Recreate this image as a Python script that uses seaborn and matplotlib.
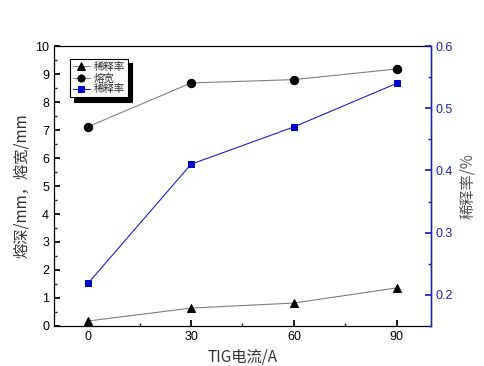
import numpy as np
import pandas as pd
import matplotlib
matplotlib.use('Agg')
import matplotlib.pyplot as plt
import seaborn as sns
from matplotlib.ticker import MultipleLocator

# データ
current = [0, 30, 60, 90]
depth = [0.18, 0.64, 0.82, 1.36]      # 熔深 (凡例は「稀释率」のまま)
width = [7.12, 8.68, 8.80, 9.18]      # 熔宽
dilution = [0.219, 0.410, 0.470, 0.540]  # 稀释率

sns.set_theme(style='ticks')
plt.rcParams['font.family'] = ['Liberation Sans', 'Noto Sans CJK SC', 'DejaVu Sans']

df = pd.DataFrame({'current': current, 'depth': depth, 'width': width, 'dilution': dilution})

fig = plt.figure(figsize=(4.85, 3.66), dpi=100)
ax = fig.add_axes([0.1113, 0.1093, 0.7774, 0.765])
ax2 = ax.twinx()

sns.lineplot(data=df, x='current', y='depth', ax=ax, color='#808080', lw=0.8,
             marker='^', markersize=6, markerfacecolor='black', markeredgecolor='black',
             label='稀释率', legend=False)
sns.lineplot(data=df, x='current', y='width', ax=ax, color='#808080', lw=0.8,
             marker='o', markersize=6, markerfacecolor='black', markeredgecolor='black',
             label='熔宽', legend=False)
sns.lineplot(data=df, x='current', y='dilution', ax=ax2, color='#2020c0', lw=0.8,
             marker='s', markersize=5, markerfacecolor='#0000cc', markeredgecolor='#0000cc',
             label='稀释率', legend=False)

ax.set_xlim(-10, 100)
ax.set_ylim(0, 10)
ax2.set_ylim(0.15, 0.6)
ax.set_xticks(current)
ax.xaxis.set_minor_locator(MultipleLocator(15))
ax.yaxis.set_major_locator(MultipleLocator(1))
ax.yaxis.set_minor_locator(MultipleLocator(0.5))
ax2.yaxis.set_major_locator(MultipleLocator(0.1))
ax2.yaxis.set_minor_locator(MultipleLocator(0.05))

ax.tick_params(axis='both', which='major', direction='in', length=4, labelsize=9, colors='black')
ax.tick_params(axis='both', which='minor', direction='in', length=2.5)
ax.tick_params(axis='x', which='both', top=False)
ax2.tick_params(axis='y', which='major', direction='in', length=4, labelsize=9,
                colors='#2020b0', labelcolor='#2020b0')
ax2.tick_params(axis='y', which='minor', direction='in', length=2.5, colors='#2020b0')

for sp in ax.spines.values():
    sp.set_color('black')
    sp.set_linewidth(0.9)
ax2.spines['right'].set_color('#2020b0')
ax2.spines['right'].set_linewidth(1.0)
for s in ['left', 'top', 'bottom']:
    ax2.spines[s].set_visible(False)

ax.set_xlabel('TIG电流/A', fontsize=11, color='#333333',
              family=['Noto Sans CJK SC', 'DejaVu Sans'])
ax.set_ylabel('熔深/mm，熔宽/mm', fontsize=11, color='#333333',
              family=['Noto Sans CJK SC', 'DejaVu Sans'])
ax2.set_ylabel('稀释率/%', fontsize=11, color='#555555',
               family=['Noto Sans CJK SC', 'DejaVu Sans'])

h1, l1 = ax.get_legend_handles_labels()
h2, l2 = ax2.get_legend_handles_labels()
leg = ax2.legend(h1 + h2, l1 + l2, loc='upper left', bbox_to_anchor=(0.042, 0.955),
                 borderaxespad=0, frameon=True, fancybox=False, markerscale=0.85,
                 handlelength=1.6, borderpad=0.3, labelspacing=0.1, handletextpad=0.4,
                 shadow={'color': 'black', 'alpha': 1, 'ox': 3, 'oy': -3},
                 prop={'family': ['Noto Sans CJK SC', 'DejaVu Sans'], 'size': 7.5})
leg.get_frame().set_edgecolor('black')
leg.get_frame().set_linewidth(0.8)

fig.savefig('out.png', dpi=100)
